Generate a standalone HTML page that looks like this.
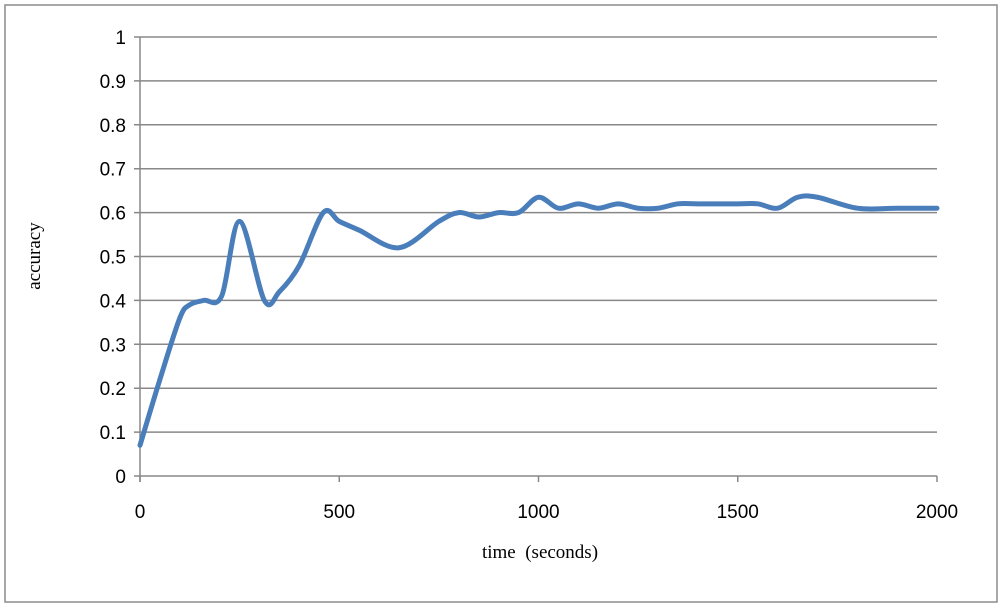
<!DOCTYPE html>
<html><head><meta charset="utf-8"><style>
body{margin:0;background:#fff;}
svg{display:block;}
</style></head><body>
<svg id="chart" width="1005" height="609" xmlns="http://www.w3.org/2000/svg">
<rect x="5" y="5" width="992" height="597" fill="#fff" stroke="#8c8c8c" stroke-width="1.5"/>
<g id="grid"></g><g id="ticks"></g>
<text x="40" y="256" transform="rotate(-90 40 256)" text-anchor="middle" font-family="Liberation Serif, serif" font-size="19" fill="#000">accuracy</text>
<text x="540" y="558" text-anchor="middle" font-family="Liberation Serif, serif" font-size="19" fill="#000" xml:space="preserve">time  (seconds)</text>
<path id="line" fill="none" stroke="#4a7ebb" stroke-width="5" stroke-linejoin="round" stroke-linecap="round"/>
</svg>
<script>
const times=[0,50,100,125,160,205,250,312,350,400,460,500,550,650,750,800,850,900,950,1000,1050,1100,1150,1200,1250,1300,1350,1400,1500,1550,1600,1650,1700,1800,1900,2000];
const accuracy=[0.07,0.22,0.36,0.39,0.40,0.41,0.58,0.40,0.42,0.48,0.60,0.58,0.56,0.52,0.58,0.60,0.59,0.60,0.60,0.635,0.61,0.62,0.61,0.62,0.61,0.61,0.62,0.62,0.62,0.62,0.61,0.635,0.635,0.61,0.61,0.61];
const yTicks=[0,0.1,0.2,0.3,0.4,0.5,0.6,0.7,0.8,0.9,1];
const xTicks=[0,500,1000,1500,2000];
const X0=140,X1=937,Y0=476,Y1=37;
const sx=v=>X0+(X1-X0)*v/2000, sy=v=>Y0-(Y0-Y1)*v;
const NS='http://www.w3.org/2000/svg';
const grid=document.getElementById('grid'),ticks=document.getElementById('ticks');
function mk(tag,attrs,parent){const e=document.createElementNS(NS,tag);for(const k in attrs)e.setAttribute(k,attrs[k]);parent.appendChild(e);return e;}
yTicks.forEach(v=>{
 const l=mk('line',{x1:X0-6,x2:X1,y1:sy(v),y2:sy(v),stroke:'#888','stroke-width':1.5},grid);
 
 
 const t=mk('text',{x:X0-14,y:sy(v)+7,'text-anchor':'end','font-family':'Liberation Sans, sans-serif','font-size':19,fill:'#000'},ticks);
 t.textContent=String(v);
 
 
});
mk('line',{x1:X0,x2:X0,y1:Y1,y2:Y0+6,stroke:'#888','stroke-width':1.5},grid);
xTicks.forEach(v=>{
 const l=mk('line',{x1:sx(v),x2:sx(v),y1:Y0,y2:Y0+6,stroke:'#888','stroke-width':1.5},grid);
 
 
 const t=mk('text',{x:sx(v),y:Y0+42,'text-anchor':'middle','font-family':'Liberation Sans, sans-serif','font-size':19,fill:'#000'},ticks);
 t.textContent=String(v);
 
 
});
const P=times.map((t,i)=>[sx(t),sy(accuracy[i])]);
let d='M'+P[0][0]+','+P[0][1];
for(let i=0;i<P.length-1;i++){
 const p0=P[Math.max(0,i-1)],p1=P[i],p2=P[i+1],p3=P[Math.min(P.length-1,i+2)];
 const c1=[p1[0]+(p2[0]-p0[0])/6,p1[1]+(p2[1]-p0[1])/6];
 const c2=[p2[0]-(p3[0]-p1[0])/6,p2[1]-(p3[1]-p1[1])/6];
 d+=` C${c1[0]},${c1[1]} ${c2[0]},${c2[1]} ${p2[0]},${p2[1]}`;
}
document.getElementById('line').setAttribute('d',d);
</script>
</body></html>
